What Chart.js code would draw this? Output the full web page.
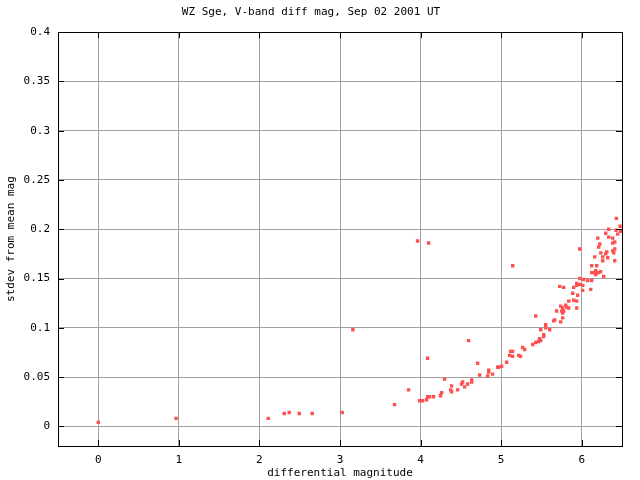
<!DOCTYPE html>
<html>
<head>
<meta charset="utf-8">
<script src="https://cdn.jsdelivr.net/npm/chart.js@4"></script>
<style>
  html, body { margin: 0; padding: 0; background: #fff; }
</style>
</head>
<body>
<canvas id="scatterChart" width="640" height="480"></canvas>
<script>
const diffMag = [0, 0.965, 2.109, 2.308, 2.37, 2.494, 2.655, 3.027, 3.16, 3.677,
  3.851, 3.963, 3.988, 4.025, 4.075, 4.087, 4.087, 4.099, 4.112, 4.161,
  4.248, 4.261, 4.298, 4.373, 4.385, 4.385, 4.46, 4.509, 4.522, 4.547,
  4.584, 4.596, 4.634, 4.634, 4.708, 4.733, 4.832, 4.845, 4.845, 4.894,
  4.957, 4.969, 5.006, 5.068, 5.106, 5.118, 5.143, 5.143, 5.143, 5.217,
  5.242, 5.267, 5.292, 5.391, 5.429, 5.429, 5.466, 5.478, 5.491, 5.491,
  5.528, 5.528, 5.553, 5.553, 5.602, 5.652, 5.665, 5.689, 5.727, 5.739,
  5.739, 5.752, 5.764, 5.764, 5.764, 5.776, 5.776, 5.801, 5.814, 5.839,
  5.839, 5.888, 5.901, 5.901, 5.938, 5.938, 5.938, 5.938, 5.95, 5.975,
  5.975, 5.975, 6.012, 6.012, 6.025, 6.075, 6.112, 6.124, 6.124, 6.124,
  6.149, 6.161, 6.174, 6.174, 6.186, 6.186, 6.199, 6.211, 6.211, 6.224,
  6.236, 6.236, 6.261, 6.261, 6.273, 6.298, 6.298, 6.311, 6.323, 6.335,
  6.335, 6.385, 6.385, 6.385, 6.398, 6.41, 6.41, 6.41, 6.426, 6.43,
  6.447, 6.476, 6.481, 6.493];
const stdevMag = [0.004, 0.008, 0.008, 0.013, 0.014, 0.013, 0.013, 0.014, 0.098, 0.022,
  0.037, 0.188, 0.026, 0.026, 0.027, 0.030, 0.069, 0.186, 0.030, 0.030,
  0.031, 0.034, 0.048, 0.037, 0.041, 0.035, 0.037, 0.043, 0.045, 0.040,
  0.043, 0.087, 0.047, 0.045, 0.064, 0.052, 0.051, 0.057, 0.055, 0.053,
  0.060, 0.060, 0.061, 0.065, 0.072, 0.076, 0.076, 0.071, 0.163, 0.072,
  0.071, 0.080, 0.078, 0.083, 0.085, 0.112, 0.086, 0.089, 0.087, 0.098,
  0.093, 0.091, 0.103, 0.100, 0.098, 0.107, 0.108, 0.117, 0.142, 0.122,
  0.106, 0.117, 0.120, 0.115, 0.110, 0.141, 0.117, 0.123, 0.121, 0.120,
  0.127, 0.135, 0.141, 0.128, 0.145, 0.143, 0.127, 0.120, 0.133, 0.180,
  0.150, 0.144, 0.143, 0.138, 0.149, 0.148, 0.139, 0.148, 0.163, 0.156,
  0.156, 0.172, 0.158, 0.154, 0.163, 0.156, 0.191, 0.182, 0.156, 0.185,
  0.176, 0.157, 0.172, 0.168, 0.152, 0.196, 0.175, 0.177, 0.171, 0.200,
  0.192, 0.191, 0.186, 0.178, 0.176, 0.187, 0.180, 0.168, 0.199, 0.211,
  0.195, 0.203, 0.198, 0.198];
const xTicks = [0, 1, 2, 3, 4, 5, 6];
const yTicks = [0, 0.05, 0.1, 0.15, 0.2, 0.25, 0.3, 0.35, 0.4];

const mono = { family: 'DejaVu Sans Mono', size: 11, weight: 'normal' };

// gnuplot style frame with inward tick marks
const framePlugin = {
  id: 'frame',
  afterDraw(chart) {
    const { ctx, chartArea: a, scales } = chart;
    ctx.save();
    ctx.strokeStyle = '#000';
    ctx.lineWidth = 1;
    ctx.beginPath();
    scales.x.ticks.forEach(t => {
      const px = Math.round(scales.x.getPixelForValue(t.value)) + 0.5;
      ctx.moveTo(px, a.top); ctx.lineTo(px, a.top + 6);
      ctx.moveTo(px, a.bottom); ctx.lineTo(px, a.bottom - 6);
    });
    scales.y.ticks.forEach(t => {
      const py = Math.round(scales.y.getPixelForValue(t.value)) + 0.5;
      ctx.moveTo(a.left, py); ctx.lineTo(a.left + 6, py);
      ctx.moveTo(a.right, py); ctx.lineTo(a.right - 6, py);
    });
    ctx.stroke();
    ctx.strokeRect(Math.round(a.left) + 0.5, Math.round(a.top) + 0.5,
      Math.round(a.right - a.left), Math.round(a.bottom - a.top));
    ctx.restore();
  }
};

const points = diffMag.map((m, i) => ({ x: m, y: stdevMag[i] }));

const ctx = document.getElementById('scatterChart').getContext('2d');
const myChart = new Chart(ctx, {
  type: 'scatter',
  data: {
    datasets: [{
      label: 'stdev',
      data: points,
      pointStyle: 'rect',
      pointRadius: 2.4,
      borderWidth: 0,
      backgroundColor: '#ff5050',
      borderColor: '#ff5050'
    }]
  },
  options: {
    responsive: false,
    animation: false,
    layout: { padding: { left: 0, right: 18, top: 0, bottom: 0 } },
    plugins: {
      legend: { display: false },
      tooltip: { enabled: false },
      title: {
        display: true,
        text: 'WZ Sge, V-band diff mag, Sep 02 2001 UT',
        color: '#000',
        font: mono,
        padding: { top: 6, bottom: 13 }
      }
    },
    scales: {
      x: {
        type: 'linear',
        min: -0.5,
        max: 6.5,
        afterBuildTicks: s => { s.ticks = xTicks.map(v => ({ value: v })); },
        afterFit: s => { s.height = 34; },
        grid: { color: '#a0a0a0', drawTicks: false },
        border: { display: false },
        ticks: { color: '#000', font: mono, padding: 8, maxRotation: 0, callback: v => String(v) },
        title: { display: true, text: 'differential magnitude', color: '#000', font: mono, padding: 0 }
      },
      y: {
        type: 'linear',
        min: -0.02,
        max: 0.4,
        afterBuildTicks: s => { s.ticks = yTicks.map(v => ({ value: v })); },
        afterFit: s => { s.width = 58; },
        grid: { color: '#a0a0a0', drawTicks: false },
        border: { display: false },
        ticks: { color: '#000', font: mono, padding: 8, callback: v => String(+v.toFixed(2)) },
        title: { display: true, text: 'stdev from mean mag', color: '#000', font: mono, padding: { top: 5, bottom: 0 } }
      }
    }
  },
  plugins: [framePlugin]
});
</script>
</body>
</html>
